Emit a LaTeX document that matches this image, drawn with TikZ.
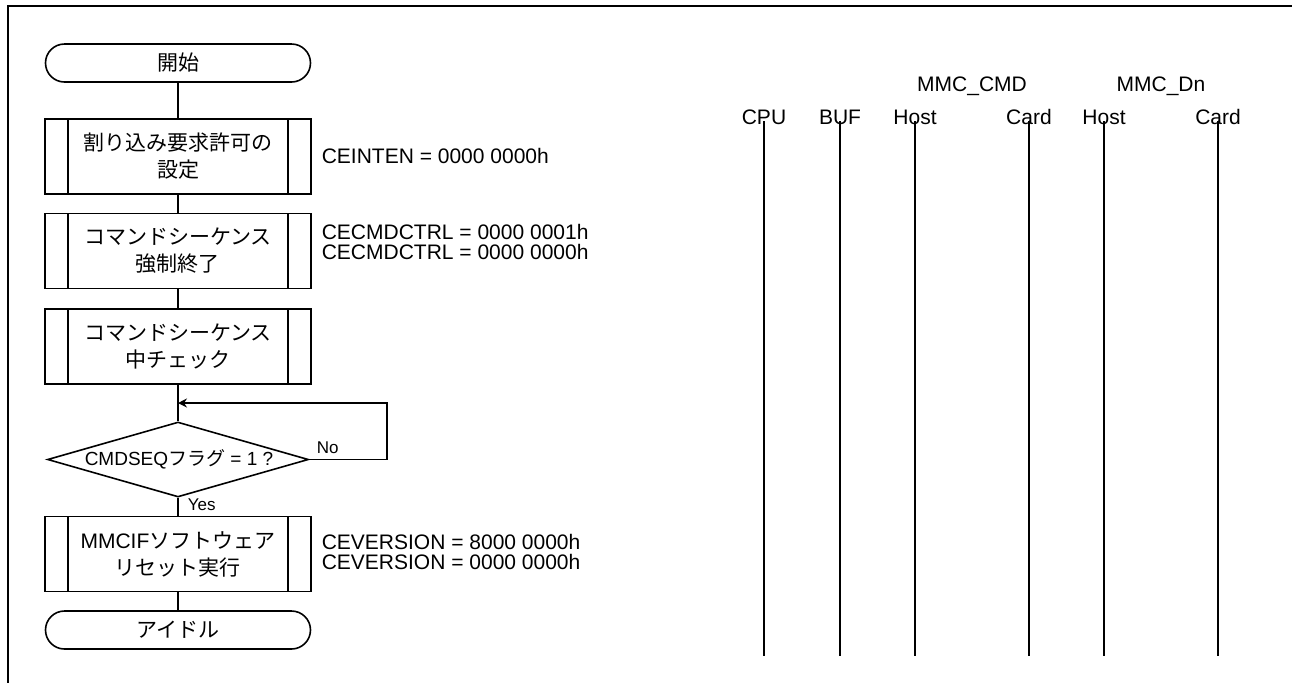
\documentclass[tikz,border=0pt]{standalone}
\usepackage{fontspec}
\setmainfont{Liberation Sans}
\newfontfamily\cjk{Noto Sans CJK JP}
\usetikzlibrary{shapes.geometric,arrows.meta}
\begin{document}
\begin{tikzpicture}[x=0.5pt,y=-0.5pt, line width=0.8pt,
  every node/.style={font=\fontsize{10.5pt}{13.5pt}\selectfont, inner sep=0pt},
  term/.style={draw, rounded corners=9.5pt, minimum width=132.5pt, minimum height=19pt,
    font=\cjk\fontsize{10.5pt}{13.5pt}\selectfont},
  proc/.style={draw, minimum width=133pt, minimum height=37.5pt, align=center,
    path picture={
      \draw[line width=0.8pt] ([xshift=11.5pt]path picture bounding box.north west) -- ([xshift=11.5pt]path picture bounding box.south west);
      \draw[line width=0.8pt] ([xshift=-11.5pt]path picture bounding box.north east) -- ([xshift=-11.5pt]path picture bounding box.south east);}},
  jp/.style={font=\cjk\fontsize{10.5pt}{13.5pt}\selectfont},
  dia/.style={draw, diamond, minimum width=130.5pt, minimum height=37.5pt, inner sep=0pt},
  diatext/.style={font=\fontsize{9.5pt}{11pt}\selectfont},
  note/.style={anchor=west, align=left, font=\fontsize{10.5pt}{10pt}\selectfont},
  small/.style={anchor=west, font=\fontsize{8.5pt}{10pt}\selectfont},
  arr/.style={-{Stealth[length=4.5pt,width=4.5pt]}},
  frame/.style={line width=1pt}
]
\useasboundingbox (0,0) rectangle (1292,682);
% frame
\coordinate (fBL) at (8,690);
\coordinate (fTL) at (8,6);
\coordinate (fTR) at (1300,6);
\draw[frame] (fBL) -- (fTL) -- (fTR);

% flowchart
\node[term] (start) at (178,63) {開始};
\node[proc, jp] (b1) at (178,156.5) {割り込み要求許可の\\設定};
\node[proc, jp] (b2) at (178,251) {コマンドシーケンス\\強制終了};
\node[proc, jp] (b3) at (178,346.5) {コマンドシーケンス\\中チェック};
\node[dia] (dec) at (178,459.5) {};
\node[diatext] (dectxt) at (179,459.5) {CMDSEQ{\cjk フラグ} = 1 ?};
\node[proc] (b4) at (178,554) {MMCIF{\cjk ソフトウェア}\\{\cjk リセット実行}};
\node[term] (end) at (178,630) {アイドル};

\draw (start) -- (b1);
\draw (b1) -- (b2);
\draw (b2) -- (b3);
\draw (b3) -- (dec);
\draw (dec) -- (b4);
\draw (b4) -- (end);

\coordinate (loopA) at (387,459.5);
\coordinate (loopB) at (387,403);
\coordinate (join) at (178,403);
\draw[arr] (dec.east) -- (loopA) -- (loopB) -- (join);

\node[small] (no) at (316,448) {No};
\node[small] (yes) at (187,505) {Yes};

% annotations
\node[note] (a1) at (321,156) {CEINTEN = 0000 0000h};
\node[note] (a2) at (321,242) {CECMDCTRL = 0000 0001h\\CECMDCTRL = 0000 0000h};
\node[note] (a3) at (321,552) {CEVERSION = 8000 0000h\\CEVERSION = 0000 0000h};

% lifelines
\foreach \n/\x/\t in {cpu/764/CPU, buf/840/BUF, ha/915/Host, ca/1029/Card, hb/1104/Host, cb/1218/Card} {
  \node[anchor=base] (\n) at (\x,124) {\t};
  \coordinate (\n T) at (\x,121);
  \coordinate (\n B) at (\x,656);
  \draw (\n T) -- (\n B);
}
\node[anchor=base] (mmccmd) at (972,91) {MMC\_CMD};
\node[anchor=base] (mmcdn) at (1161,91) {MMC\_Dn};
\end{tikzpicture}
\end{document}
